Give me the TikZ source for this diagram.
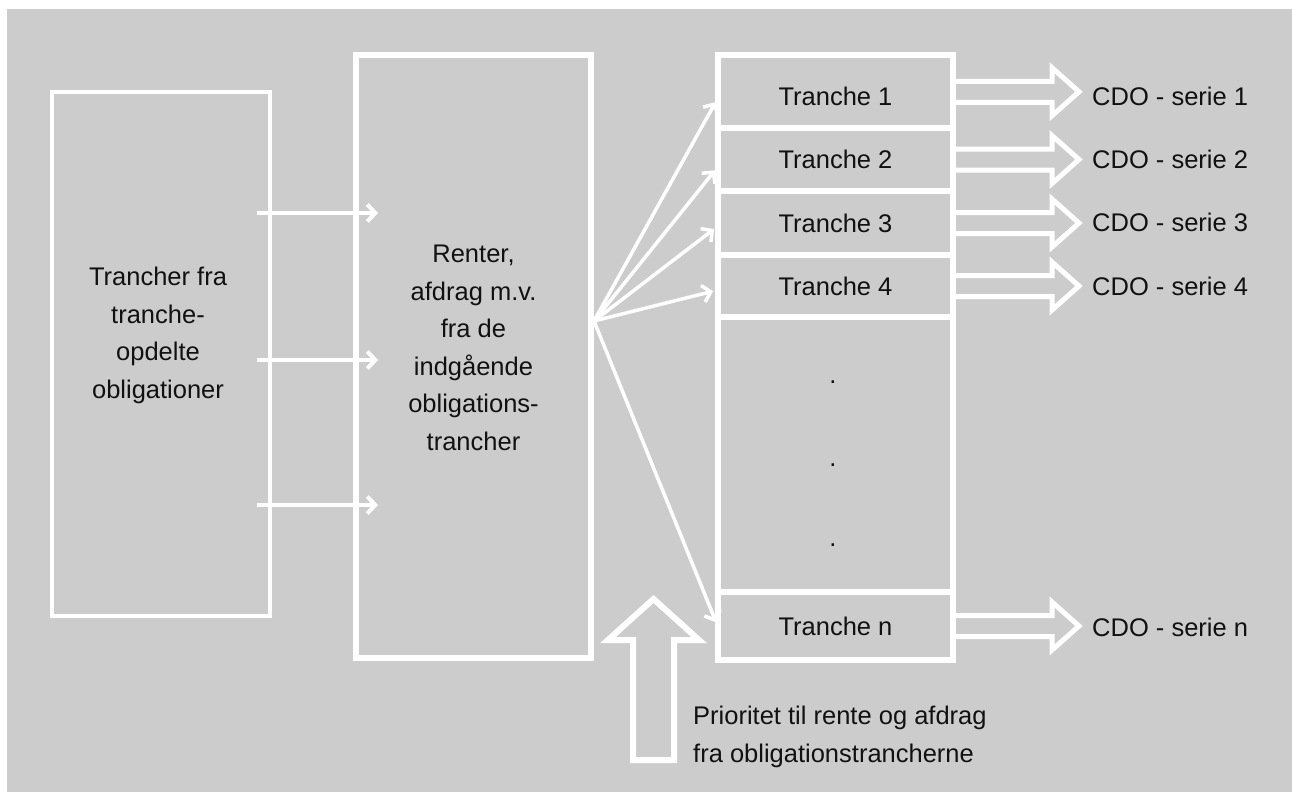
\documentclass[tikz,border=0pt]{standalone}
\usepackage{fontspec}
\setmainfont{Liberation Sans}
\usepackage{xcolor}
\usepackage{tikz}
\usetikzlibrary{positioning,arrows.meta,calc}
\definecolor{CDObg}{HTML}{CCCCCC}
\definecolor{CDOink}{HTML}{111111}
\tikzset{
  txt/.style={font=\fontsize{25.5}{37.5}\selectfont, text=CDOink, align=center, inner sep=0pt},
  srcbox/.style={draw=white, line width=4.5pt, outer sep=0pt, minimum width=218pt, minimum height=524pt},
  midbox/.style={draw=white, line width=6pt, outer sep=0pt, minimum width=235pt, minimum height=603pt},
  trbox/.style={draw=white, line width=6pt, outer sep=0pt, minimum width=235pt, font=\fontsize{25.5}{30}\selectfont, text=CDOink},
  smallarr/.style={draw=white, line width=4pt, -{Straight Barb[length=8pt,width=17pt]}},
  fanarr/.style={smallarr, line width=3.5pt, shorten >=5pt},
  fatarr/.style={draw=white, line width=5pt, line join=miter, to path={
    let \p1=(\tikztostart), \p2=(\tikztotarget) in
    (\x1,{\y1+10.5pt}) -- ({\x2-40pt},{\y1+10.5pt}) -- ({\x2-40pt},{\y1+24pt}) -- ({\x2-13pt},\y1)
    -- ({\x2-40pt},{\y1-24pt}) -- ({\x2-40pt},{\y1-10.5pt}) -- (\x1,{\y1-10.5pt})}},
  uparr/.style={draw=white, line width=6pt, line join=miter}
}
\begin{document}
\begin{tikzpicture}[x=1pt, y=-1pt]
  \useasboundingbox (0,0) rectangle (1292,792);
  \fill[white] (0,0) rectangle (1292,792);
  \fill[CDObg] (7,9) rectangle (1292,792);

  \node[srcbox] (src) at (161,354) {};
  \node[txt, anchor=north] (srctxt) at (158,267) {Trancher fra\\tranche-\\opdelte\\obligationer};
  \node[midbox] (mid) at (473.5,356.5) {};
  \node[txt, anchor=north] (midtxt) at (473.5,245) {Renter,\\afdrag m.v.\\fra de\\indgående\\obligations-\\trancher};

  \node[trbox, minimum height=72.5pt, text height=28pt] (t1) at (835.5,91.75) {Tranche 1};
  \node[trbox, minimum height=63pt, below=0pt of t1] (t2) {Tranche 2};
  \node[trbox, minimum height=64pt, below=0pt of t2] (t3) {Tranche 3};
  \node[trbox, minimum height=62pt, below=0pt of t3] (t4) {Tranche 4};
  \node[trbox, minimum height=275pt, below=0pt of t4] (tdots) {};
  \node[trbox, minimum height=68pt, below=0pt of tdots] (tn) {Tranche n};
  \foreach \y [count=\i] in {382,465,545} \node[txt] (dot\i) at (833,\y) {.};

  \node[txt, anchor=west] (cdo1) at (1092,96) {CDO - serie 1};
  \node[txt, anchor=west] (cdo2) at (1092,159) {CDO - serie 2};
  \node[txt, anchor=west] (cdo3) at (1092,222) {CDO - serie 3};
  \node[txt, anchor=west] (cdo4) at (1092,286) {CDO - serie 4};
  \node[txt, anchor=west] (cdon) at (1092,627) {CDO - serie n};
  \node[txt, align=left, anchor=north west] (prio) at (693,706) {Prioritet til rente og afdrag\\fra obligationstrancherne};

  \foreach \y in {213,360,505} \draw[smallarr] ($(src.east |- 0,\y)+(-13,0)$) -- ($(mid.west |- 0,\y)+(22,0)$);
  \coordinate (fan) at (594,321);
  \foreach \t/\d in {t1/6,t2/7,t3/3,t4/4,tn/1} \draw[fanarr] (fan) -- ([yshift=-\d pt]\t.west);
  \draw[fatarr] (t1.east) to (cdo1.west); \draw[fatarr] (t2.east) to (cdo2.west); \draw[fatarr] (t3.east) to (cdo3.west);
  \draw[fatarr] (t4.east) to (cdo4.west); \draw[fatarr] (tn.east) to (cdon.west);
  \draw[uparr] (633,760) -- (633,640) -- (608,640) -- (653.5,599) -- (699,640) -- (674,640) -- (674,760) -- cycle;
\end{tikzpicture}
\end{document}
